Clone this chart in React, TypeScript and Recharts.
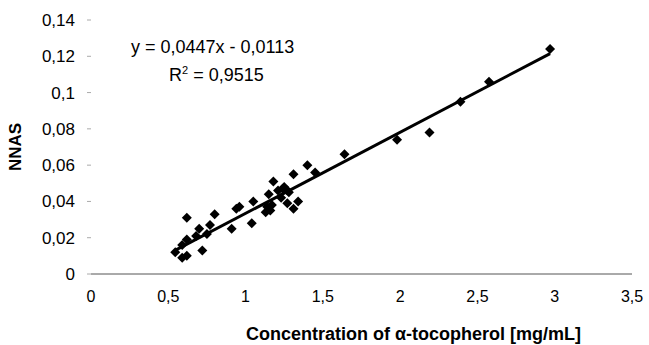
import React from "react"
import { ScatterChart, Scatter, XAxis, YAxis, ZAxis, Label } from "recharts"

const xTicks = [0, 0.5, 1, 1.5, 2, 2.5, 3, 3.5]
const yTicks = [0, 0.02, 0.04, 0.06, 0.08, 0.1, 0.12, 0.14]

const concentration = [
  0.545, 0.59, 0.62, 0.59, 0.62, 0.68, 0.72, 0.7, 0.75, 0.77, 0.8, 0.62,
  0.91, 0.94, 0.96, 1.04, 1.05, 1.13, 1.16, 1.14, 1.17, 1.15, 1.18, 1.21,
  1.23, 1.24, 1.25, 1.27, 1.28, 1.27, 1.31, 1.34, 1.31, 1.4, 1.45, 1.64,
  1.98, 2.19, 2.39, 2.575, 2.97,
]
const nnas = [
  0.012, 0.009, 0.01, 0.016, 0.019, 0.021, 0.013, 0.025, 0.022, 0.027, 0.033, 0.031,
  0.025, 0.036, 0.037, 0.028, 0.04, 0.034, 0.035, 0.037, 0.038, 0.044, 0.051, 0.046,
  0.042, 0.047, 0.048, 0.046, 0.045, 0.039, 0.036, 0.04, 0.055, 0.06, 0.056, 0.066,
  0.074, 0.078, 0.095, 0.106, 0.124,
]

// trendline y = 0,0447x - 0,0113 between the first and last sample
const trendX = [0.55, 2.97]
const trendY = [0.0133, 0.1215]

const points = concentration.map((x, i) => ({ x, y: nnas[i] }))
const trend = trendX.map((x, i) => ({ x, y: trendY[i] }))

const comma = (v: number) => String(v).replace(".", ",")

const Diamond = (props: any) => {
  const { cx, cy } = props
  const r = 5
  return (
    <polygon
      points={`${cx},${cy - r} ${cx + r},${cy} ${cx},${cy + r} ${cx - r},${cy}`}
      fill="#000"
    />
  )
}

const font = "'Liberation Sans', Arial, sans-serif"

export default function App() {
  return (
    <div style={{ position: "relative", width: 649, height: 345, background: "#fff", fontFamily: font }}>
      <style>{"body{margin:0}"}</style>
      <ScatterChart width={649} height={345} margin={{ top: 20, right: 17, bottom: 41, left: 31 }}>
        <XAxis
          type="number"
          dataKey="x"
          domain={[0, 3.5]}
          ticks={xTicks}
          tickFormatter={comma}
          axisLine={{ stroke: "#555" }}
          tickLine={false}
          tickSize={0}
          tickMargin={17}
          tick={{ fill: "#000", fontSize: 16, fontFamily: font }}
        >
          <Label
            value="Concentration of α-tocopherol [mg/mL]"
            position="bottom"
            offset={23}
            dx={52}
            style={{ fill: "#000", fontSize: 18, fontWeight: "bold", fontFamily: font }}
          />
        </XAxis>
        <YAxis
          type="number"
          dataKey="y"
          domain={[0, 0.14]}
          ticks={yTicks}
          tickFormatter={comma}
          width={60}
          axisLine={false}
          tickLine={{ stroke: "#aaa" }}
          tickSize={4}
          tickMargin={12}
          tick={{ fill: "#000", fontSize: 17, fontFamily: font }}
        >
          <Label
            value="NNAS"
            angle={-90}
            position="insideLeft"
            offset={-16}
            style={{ fill: "#000", fontSize: 17, fontWeight: "bold", fontFamily: font, textAnchor: "middle" }}
          />
        </YAxis>
        <ZAxis range={[60, 60]} />
        <Scatter
          data={trend}
          line={{ stroke: "#000", strokeWidth: 3 }}
          shape={() => null}
          isAnimationActive={false}
        />
        <Scatter data={points} shape={<Diamond />} isAnimationActive={false} />
      </ScatterChart>
      <div style={{ position: "absolute", left: 131, top: 36, fontSize: 18, lineHeight: "22px", color: "#000" }}>
        y = 0,0447x - 0,0113
      </div>
      <div style={{ position: "absolute", left: 169, top: 64, fontSize: 18, lineHeight: "22px", color: "#000" }}>
        R<sup style={{ fontSize: 11, verticalAlign: "7px", lineHeight: 0 }}>2</sup> = 0,9515
      </div>
    </div>
  )
}
